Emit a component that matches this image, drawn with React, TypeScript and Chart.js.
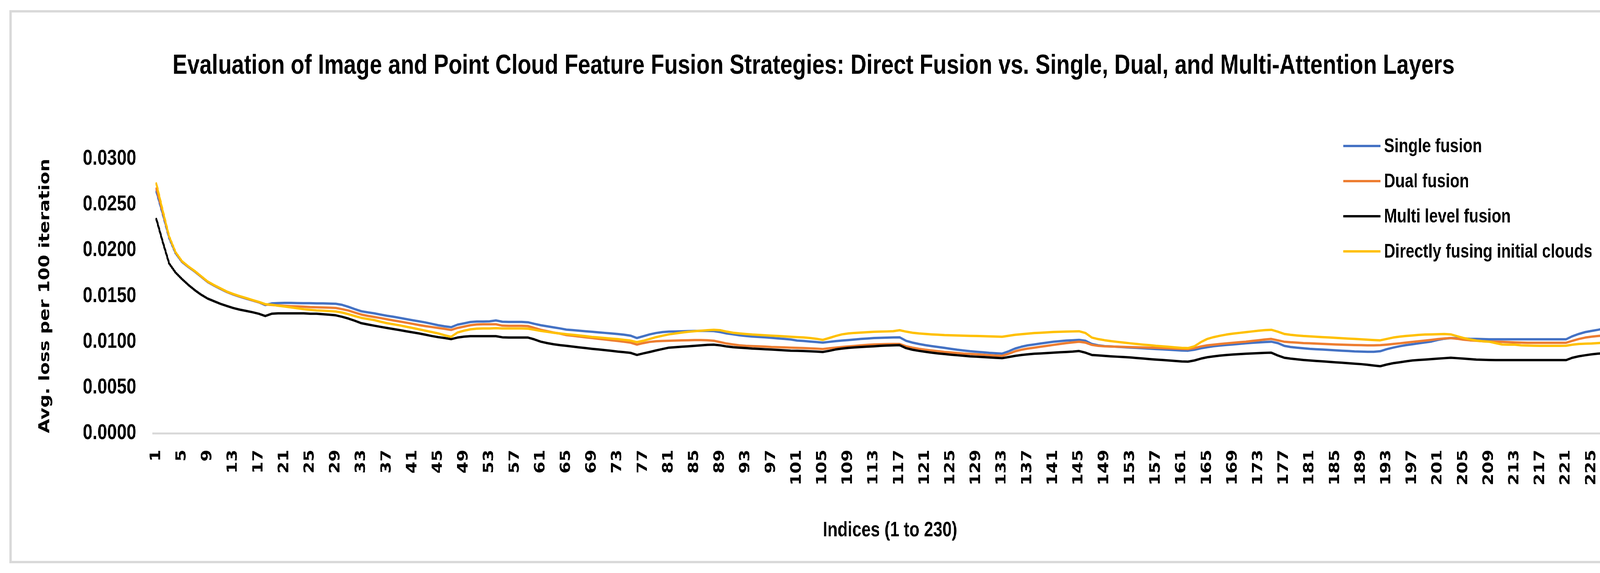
import React, { useEffect, useRef } from "react";
import { Chart, registerables } from "chart.js";

Chart.register(...registerables);

const TITLE =
  "Evaluation of Image and Point Cloud Feature Fusion Strategies: Direct Fusion vs. Single, Dual, and Multi-Attention Layers";
const X_TITLE = "Indices (1 to 230)";
const Y_TITLE = "Avg. loss per 100 iteration";
const SERIES_NAMES = ["Single fusion", "Dual fusion", "Multi level fusion", "Directly fusing initial clouds"];
const SERIES_COLORS = ["#4472C4", "#ED7D31", "#000000", "#FFC000"];

const indices: string[] = Array.from({ length: 230 }, (_, i) => String(i + 1));
const X_LABEL_EVERY = 4;
const Y_MIN = 0;
const Y_MAX = 0.03;
const Y_STEP = 0.005;

const singleFusion = [
  0.02640, 0.02390, 0.02130, 0.01965, 0.01870, 0.01815, 0.01765, 0.01708, 0.01652, 0.01612,
  0.01576, 0.01542, 0.01515, 0.01492, 0.01470, 0.01450, 0.01430, 0.01400, 0.01418, 0.01422,
  0.01424, 0.01424, 0.01422, 0.01420, 0.01420, 0.01418, 0.01418, 0.01416, 0.01414, 0.01402,
  0.01380, 0.01355, 0.01332, 0.01320, 0.01310, 0.01296, 0.01283, 0.01272, 0.01260, 0.01247,
  0.01234, 0.01222, 0.01210, 0.01195, 0.01180, 0.01168, 0.01158, 0.01186, 0.01200, 0.01215,
  0.01220, 0.01220, 0.01222, 0.01232, 0.01218, 0.01216, 0.01216, 0.01216, 0.01212, 0.01195,
  0.01180, 0.01168, 0.01156, 0.01145, 0.01132, 0.01126, 0.01120, 0.01114, 0.01108, 0.01102,
  0.01096, 0.01090, 0.01084, 0.01076, 0.01066, 0.01040, 0.01060, 0.01080, 0.01095, 0.01105,
  0.01110, 0.01112, 0.01114, 0.01116, 0.01118, 0.01118, 0.01118, 0.01116, 0.01105, 0.01090,
  0.01080, 0.01070, 0.01062, 0.01056, 0.01052, 0.01048, 0.01042, 0.01036, 0.01030, 0.01024,
  0.01012, 0.01008, 0.01002, 0.00996, 0.00990, 0.00998, 0.01006, 0.01012, 0.01018, 0.01024,
  0.01030, 0.01035, 0.01040, 0.01042, 0.01044, 0.01046, 0.01048, 0.01010, 0.00990, 0.00975,
  0.00962, 0.00952, 0.00942, 0.00932, 0.00922, 0.00912, 0.00904, 0.00896, 0.00890, 0.00884,
  0.00878, 0.00874, 0.00870, 0.00895, 0.00925, 0.00945, 0.00960, 0.00970, 0.00980, 0.00990,
  0.01000, 0.01006, 0.01012, 0.01016, 0.01020, 0.01010, 0.00975, 0.00960, 0.00952, 0.00948,
  0.00944, 0.00940, 0.00936, 0.00932, 0.00928, 0.00924, 0.00920, 0.00916, 0.00912, 0.00908,
  0.00904, 0.00902, 0.00912, 0.00928, 0.00940, 0.00950, 0.00958, 0.00964, 0.00970, 0.00976,
  0.00982, 0.00988, 0.00992, 0.00996, 0.01000, 0.00985, 0.00955, 0.00942, 0.00935, 0.00928,
  0.00922, 0.00918, 0.00914, 0.00910, 0.00906, 0.00902, 0.00898, 0.00894, 0.00892, 0.00890,
  0.00890, 0.00896, 0.00918, 0.00935, 0.00950, 0.00962, 0.00972, 0.00982, 0.00992, 0.01002,
  0.01020, 0.01032, 0.01040, 0.01038, 0.01036, 0.01032, 0.01030, 0.01028, 0.01026, 0.01026,
  0.01026, 0.01026, 0.01026, 0.01026, 0.01026, 0.01026, 0.01026, 0.01026, 0.01026, 0.01026,
  0.01026, 0.01060, 0.01085, 0.01105, 0.01118, 0.01130, 0.01145, 0.01155, 0.01162, 0.01172,
];

const dualFusion = [
  0.02672, 0.02410, 0.02145, 0.01975, 0.01876, 0.01819, 0.01769, 0.01712, 0.01655, 0.01616,
  0.01580, 0.01545, 0.01518, 0.01495, 0.01474, 0.01452, 0.01432, 0.01407, 0.01401, 0.01396,
  0.01392, 0.01388, 0.01385, 0.01382, 0.01378, 0.01376, 0.01374, 0.01372, 0.01368, 0.01355,
  0.01340, 0.01318, 0.01296, 0.01282, 0.01270, 0.01258, 0.01245, 0.01232, 0.01220, 0.01208,
  0.01195, 0.01182, 0.01170, 0.01160, 0.01150, 0.01140, 0.01128, 0.01150, 0.01165, 0.01180,
  0.01188, 0.01190, 0.01190, 0.01190, 0.01175, 0.01173, 0.01173, 0.01173, 0.01170, 0.01150,
  0.01130, 0.01115, 0.01100, 0.01088, 0.01072, 0.01064, 0.01056, 0.01048, 0.01040, 0.01032,
  0.01024, 0.01016, 0.01008, 0.01000, 0.00990, 0.00968, 0.00985, 0.00998, 0.01005, 0.01008,
  0.01010, 0.01012, 0.01014, 0.01016, 0.01018, 0.01018, 0.01016, 0.01010, 0.00995, 0.00980,
  0.00970, 0.00960, 0.00955, 0.00952, 0.00950, 0.00946, 0.00942, 0.00940, 0.00938, 0.00935,
  0.00932, 0.00930, 0.00927, 0.00924, 0.00920, 0.00928, 0.00935, 0.00942, 0.00948, 0.00954,
  0.00960, 0.00965, 0.00970, 0.00972, 0.00974, 0.00975, 0.00975, 0.00950, 0.00935, 0.00922,
  0.00912, 0.00904, 0.00896, 0.00888, 0.00882, 0.00876, 0.00870, 0.00866, 0.00862, 0.00858,
  0.00852, 0.00848, 0.00845, 0.00868, 0.00895, 0.00912, 0.00925, 0.00935, 0.00945, 0.00955,
  0.00965, 0.00975, 0.00985, 0.00992, 0.01000, 0.00990, 0.00965, 0.00955, 0.00950, 0.00947,
  0.00945, 0.00943, 0.00941, 0.00939, 0.00937, 0.00935, 0.00933, 0.00930, 0.00928, 0.00925,
  0.00922, 0.00920, 0.00930, 0.00948, 0.00960, 0.00968, 0.00975, 0.00982, 0.00988, 0.00994,
  0.01000, 0.01008, 0.01016, 0.01024, 0.01030, 0.01015, 0.01000, 0.00994, 0.00990, 0.00985,
  0.00982, 0.00979, 0.00976, 0.00973, 0.00970, 0.00968, 0.00965, 0.00963, 0.00962, 0.00960,
  0.00960, 0.00962, 0.00968, 0.00975, 0.00982, 0.00990, 0.00998, 0.01005, 0.01012, 0.01020,
  0.01028, 0.01035, 0.01040, 0.01032, 0.01022, 0.01015, 0.01010, 0.01005, 0.01002, 0.01000,
  0.00998, 0.00995, 0.00992, 0.00990, 0.00988, 0.00988, 0.00988, 0.00988, 0.00988, 0.00988,
  0.00988, 0.01010, 0.01030, 0.01045, 0.01055, 0.01062, 0.01068, 0.01074, 0.01078, 0.01082,
];

const multiLevelFusion = [
  0.02340, 0.02090, 0.01854, 0.01755, 0.01684, 0.01620, 0.01563, 0.01513, 0.01471, 0.01442,
  0.01414, 0.01390, 0.01368, 0.01350, 0.01336, 0.01322, 0.01305, 0.01280, 0.01305, 0.01310,
  0.01310, 0.01310, 0.01310, 0.01310, 0.01305, 0.01305, 0.01300, 0.01295, 0.01288, 0.01272,
  0.01252, 0.01228, 0.01202, 0.01188, 0.01175, 0.01162, 0.01150, 0.01138, 0.01126, 0.01114,
  0.01102, 0.01090, 0.01076, 0.01062, 0.01050, 0.01040, 0.01028, 0.01045, 0.01055, 0.01060,
  0.01060, 0.01060, 0.01060, 0.01060, 0.01048, 0.01045, 0.01045, 0.01045, 0.01045, 0.01025,
  0.01000, 0.00985, 0.00972, 0.00962, 0.00955, 0.00946, 0.00938, 0.00930, 0.00922, 0.00915,
  0.00908, 0.00900, 0.00892, 0.00886, 0.00878, 0.00855, 0.00872, 0.00888, 0.00905, 0.00920,
  0.00935, 0.00940, 0.00945, 0.00950, 0.00955, 0.00960, 0.00965, 0.00968, 0.00960, 0.00948,
  0.00940, 0.00935, 0.00930, 0.00925, 0.00922, 0.00918, 0.00914, 0.00910, 0.00906, 0.00902,
  0.00900, 0.00898, 0.00895, 0.00892, 0.00888, 0.00900, 0.00915, 0.00925, 0.00932, 0.00938,
  0.00942, 0.00946, 0.00950, 0.00955, 0.00958, 0.00960, 0.00962, 0.00930, 0.00912, 0.00900,
  0.00890, 0.00880, 0.00872, 0.00865, 0.00858, 0.00852, 0.00846, 0.00840, 0.00836, 0.00832,
  0.00828, 0.00824, 0.00820, 0.00832, 0.00845, 0.00855, 0.00862, 0.00868, 0.00872, 0.00876,
  0.00880, 0.00884, 0.00888, 0.00892, 0.00898, 0.00880, 0.00855, 0.00850, 0.00845, 0.00840,
  0.00836, 0.00832, 0.00828, 0.00822, 0.00816, 0.00810, 0.00805, 0.00800, 0.00795, 0.00790,
  0.00784, 0.00782, 0.00795, 0.00815, 0.00830, 0.00840, 0.00848, 0.00855, 0.00860, 0.00864,
  0.00868, 0.00872, 0.00875, 0.00878, 0.00880, 0.00850, 0.00825, 0.00815, 0.00808, 0.00800,
  0.00795, 0.00790, 0.00785, 0.00780, 0.00775, 0.00770, 0.00765, 0.00760, 0.00755, 0.00748,
  0.00740, 0.00732, 0.00750, 0.00765, 0.00775, 0.00785, 0.00795, 0.00800, 0.00805, 0.00810,
  0.00815, 0.00820, 0.00825, 0.00820, 0.00815, 0.00810, 0.00805, 0.00802, 0.00800, 0.00799,
  0.00799, 0.00799, 0.00799, 0.00799, 0.00799, 0.00799, 0.00799, 0.00799, 0.00799, 0.00799,
  0.00799, 0.00825, 0.00841, 0.00852, 0.00862, 0.00870, 0.00874, 0.00877, 0.00878, 0.00878,
];

const directFusion = [
  0.02728, 0.02432, 0.02150, 0.01978, 0.01880, 0.01822, 0.01772, 0.01715, 0.01658, 0.01619,
  0.01583, 0.01548, 0.01521, 0.01498, 0.01477, 0.01455, 0.01435, 0.01410, 0.01404, 0.01393,
  0.01384, 0.01375, 0.01365, 0.01355, 0.01348, 0.01342, 0.01338, 0.01334, 0.01330, 0.01318,
  0.01300, 0.01280, 0.01260, 0.01248, 0.01236, 0.01218, 0.01202, 0.01190, 0.01178, 0.01164,
  0.01150, 0.01135, 0.01120, 0.01105, 0.01090, 0.01070, 0.01053, 0.01100, 0.01120, 0.01135,
  0.01142, 0.01145, 0.01145, 0.01148, 0.01145, 0.01145, 0.01145, 0.01145, 0.01142, 0.01130,
  0.01118, 0.01108, 0.01098, 0.01090, 0.01082, 0.01075, 0.01068, 0.01060, 0.01052, 0.01046,
  0.01040, 0.01034, 0.01028, 0.01020, 0.01012, 0.00995, 0.01010, 0.01030, 0.01050, 0.01065,
  0.01080, 0.01090, 0.01100, 0.01108, 0.01115, 0.01120, 0.01125, 0.01130, 0.01125, 0.01110,
  0.01098, 0.01090, 0.01084, 0.01078, 0.01074, 0.01070, 0.01066, 0.01062, 0.01058, 0.01054,
  0.01050, 0.01046, 0.01040, 0.01032, 0.01020, 0.01040, 0.01062, 0.01080, 0.01090, 0.01096,
  0.01100, 0.01104, 0.01108, 0.01110, 0.01112, 0.01115, 0.01125, 0.01110, 0.01098, 0.01090,
  0.01085, 0.01080, 0.01076, 0.01072, 0.01070, 0.01068, 0.01066, 0.01064, 0.01062, 0.01060,
  0.01058, 0.01056, 0.01054, 0.01065, 0.01075, 0.01082, 0.01088, 0.01094, 0.01098, 0.01102,
  0.01106, 0.01108, 0.01110, 0.01112, 0.01114, 0.01095, 0.01045, 0.01028, 0.01016, 0.01006,
  0.00998, 0.00990, 0.00982, 0.00975, 0.00968, 0.00962, 0.00955, 0.00950, 0.00944, 0.00938,
  0.00932, 0.00930, 0.00950, 0.00995, 0.01030, 0.01050, 0.01065, 0.01078, 0.01088, 0.01096,
  0.01104, 0.01112, 0.01120, 0.01126, 0.01130, 0.01110, 0.01085, 0.01075, 0.01068, 0.01062,
  0.01058, 0.01054, 0.01050, 0.01046, 0.01042, 0.01038, 0.01034, 0.01030, 0.01026, 0.01022,
  0.01018, 0.01015, 0.01030, 0.01045, 0.01055, 0.01062, 0.01068, 0.01074, 0.01078, 0.01080,
  0.01082, 0.01084, 0.01080, 0.01060, 0.01040, 0.01025, 0.01012, 0.01005, 0.01000, 0.00985,
  0.00970, 0.00968, 0.00968, 0.00960, 0.00958, 0.00956, 0.00955, 0.00955, 0.00955, 0.00955,
  0.00956, 0.00968, 0.00975, 0.00978, 0.00980, 0.00985, 0.00990, 0.00995, 0.00998, 0.01000,
];

// The reference picture is horizontally condensed; the chart is laid out in an
// unsqueezed coordinate space and squeezed with a CSS transform.
const SX = 0.8;
const PAGE_W = 4300;
const PAGE_H = 1468;
const CANVAS_W = Math.round(PAGE_W / SX);
const px = (x: number) => x / SX;

const SANS = "'Liberation Sans', Arial, sans-serif";
const DEJAVU = "'DejaVu Sans', Verdana, sans-serif";

const framePlugin = {
  id: "framePlugin",
  beforeDraw(chart: any) {
    const { ctx, width, height } = chart;
    ctx.save();
    ctx.fillStyle = "#ffffff";
    ctx.fillRect(0, 0, width, height);
    ctx.fillStyle = "#d9d9d9";
    const l = px(24), r = px(4278), t = 26, b = 1443;
    ctx.fillRect(l, t, r - l, 6);
    ctx.fillRect(l, b - 6, r - l, 6);
    ctx.fillRect(l, t, px(6), b - t);
    ctx.fillRect(r - px(6), t, px(6), b - t);
    ctx.restore();
  },
};

const legendPlugin = {
  id: "insideLegend",
  afterDraw(chart: any) {
    const { ctx } = chart;
    ctx.save();
    ctx.font = `bold 50px ${SANS}`;
    ctx.textBaseline = "middle";
    ctx.textAlign = "left";
    chart.data.datasets.forEach((ds: any, i: number) => {
      const y = 374 + i * 90;
      ctx.strokeStyle = ds.borderColor;
      ctx.lineWidth = 6;
      ctx.beginPath();
      ctx.moveTo(px(3439), y);
      ctx.lineTo(px(3534), y);
      ctx.stroke();
      ctx.fillStyle = "#000000";
      ctx.fillText(ds.label, px(3543), y + 2);
    });
    ctx.restore();
  },
};

export default function App() {
  const canvasRef = useRef<HTMLCanvasElement | null>(null);

  useEffect(() => {
    document.body.style.margin = "0";
    const canvas = canvasRef.current;
    if (!canvas) return;
    const seriesData = [singleFusion, dualFusion, multiLevelFusion, directFusion];
    const drawOrder = [3, 2, 1, 0];
    const chart = new Chart(canvas, {
      type: "line",
      data: {
        labels: indices,
        datasets: SERIES_NAMES.map((name, i) => ({
          label: name,
          data: seriesData[i],
          borderColor: SERIES_COLORS[i],
          backgroundColor: SERIES_COLORS[i],
          borderWidth: 6,
          pointRadius: 0,
          tension: 0,
          fill: false,
          order: drawOrder[i],
        })),
      },
      options: {
        animation: false,
        responsive: true,
        maintainAspectRatio: false,
        devicePixelRatio: 1,
        layout: { padding: { left: 0, right: CANVAS_W - px(4165), top: 0, bottom: 0 } },
        elements: { line: { borderJoinStyle: "round", borderCapStyle: "round" } },
        plugins: {
          legend: { display: false },
          tooltip: { enabled: false },
          title: {
            display: true,
            text: TITLE,
            color: "#000000",
            font: { family: SANS, size: 71, weight: "bold", lineHeight: 1.2 },
            padding: { top: 127, bottom: 194 },
          },
        },
        scales: {
          x: {
            type: "category",
            offset: true,
            grid: { display: false, drawTicks: false },
            border: { display: true, color: "#d9d9d9", width: 5 },
            ticks: {
              autoSkip: false,
              minRotation: 90,
              maxRotation: 90,
              padding: 42,
              color: "#000000",
              font: { family: DEJAVU, size: 44, weight: "bold" },
              callback: (_v: any, i: number) => (i % X_LABEL_EVERY === 0 ? indices[i] : null),
            },
            title: {
              display: true,
              text: X_TITLE,
              color: "#000000",
              font: { family: SANS, size: 53, weight: "bold", lineHeight: 1.2 },
              padding: { top: 0, bottom: 77 },
            },
            afterFit: (s: any) => {
              s.height = PAGE_H - 1110;
            },
          },
          y: {
            min: Y_MIN,
            max: Y_MAX,
            grid: { display: false, drawTicks: false },
            border: { display: false },
            ticks: {
              stepSize: Y_STEP,
              padding: px(43),
              color: "#000000",
              font: { family: SANS, size: 56, weight: "bold" },
              callback: (v: any) => Number(v).toFixed(4),
            },
            title: {
              display: true,
              text: Y_TITLE,
              color: "#000000",
              font: { family: DEJAVU, size: 47, weight: "bold", lineHeight: 1.2 },
              padding: { top: px(116) - 28, bottom: 0 },
            },
            afterFit: (s: any) => {
              s.width = px(392);
            },
          },
        },
      } as any,
      plugins: [framePlugin, legendPlugin],
    });
    return () => chart.destroy();
  }, []);

  return (
    <div
      style={{
        position: "fixed",
        left: 0,
        top: 0,
        width: CANVAS_W,
        height: PAGE_H,
        background: "#ffffff",
        transform: `scaleX(${SX})`,
        transformOrigin: "0 0",
      }}
    >
      <canvas ref={canvasRef} style={{ display: "block" }} />
    </div>
  );
}
